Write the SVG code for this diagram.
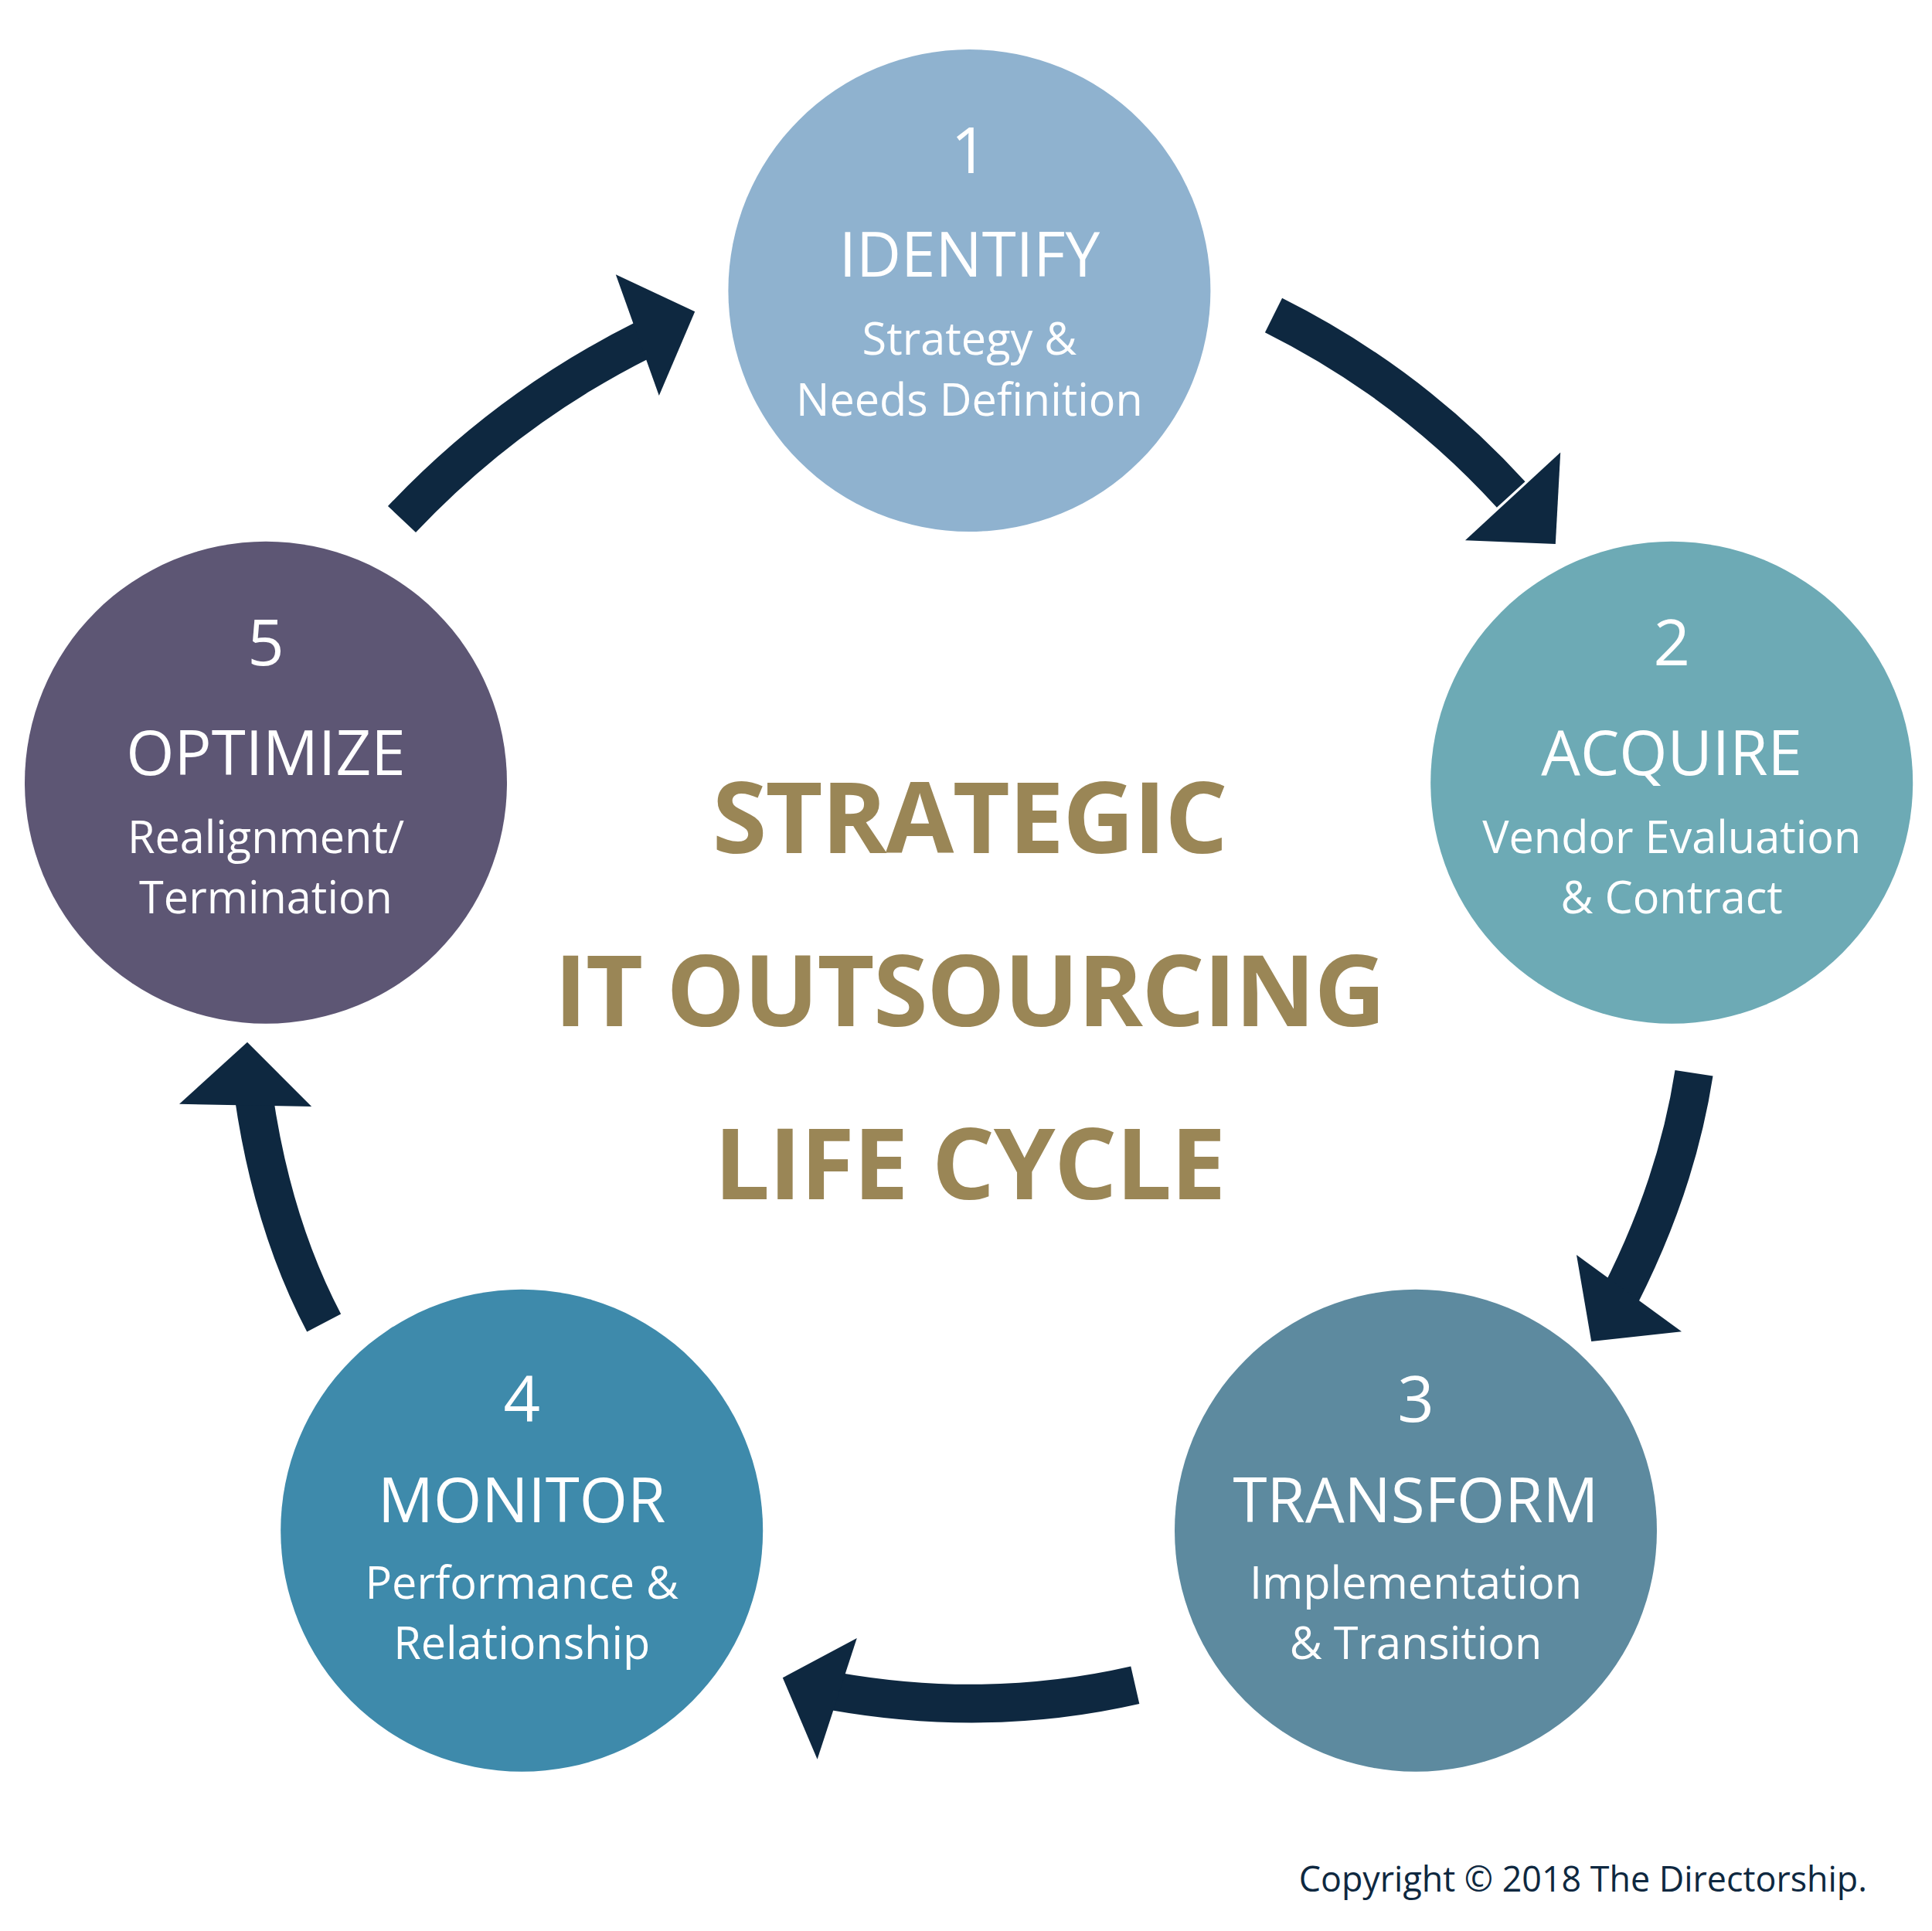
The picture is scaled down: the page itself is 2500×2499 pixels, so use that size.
<svg xmlns="http://www.w3.org/2000/svg" width="2500" height="2499" viewBox="0 0 2500 2499">
<style>
.t{font-family:"Open Sans","Noto Sans",sans-serif;fill:#fff;text-anchor:middle}
.n{font-size:52px}
.h{font-size:50px}
.s{font-size:36px}
.band{fill:none;stroke:#0e2840;stroke-width:31}
.head{fill:#0e2840}
.title{font-family:"Open Sans","Noto Sans",sans-serif;font-weight:bold;font-size:80px;fill:#9a8656;text-anchor:middle;letter-spacing:-1px}
</style>
<rect width="2500" height="2499" fill="#fff"/>
<g transform="scale(1.6)">
<g id="connectors">
<path class="band" d="M1030,255 Q1140,310 1222,400"/><polygon class="head" points="1185,437 1258,440 1262,366"/>
<path class="band" d="M1370,868 Q1355,965 1303,1062"/><polygon class="head" points="1275,1015 1287,1085 1360,1077"/>
<path class="band" d="M918,1363 Q800,1390 675,1368"/><polygon class="head" points="693,1325 633,1357 661,1423"/>
<path class="band" d="M262,1070 Q220,990 205,885"/><polygon class="head" points="145,893 200,843 252,895"/>
<path class="band" d="M325,420 Q410,330 520,275"/><polygon class="head" points="498,222 562,252 533,320"/>
</g>
<g id="node1"><circle cx="784" cy="235" r="195" fill="#8fb2cf"/>
<text class="t n" x="784" y="140">1</text><text class="t h" x="784" y="224">IDENTIFY</text>
<text class="t s" x="784" y="287">Strategy &amp;</text><text class="t s" x="784" y="336">Needs Definition</text></g>
<g id="node2"><circle cx="1352" cy="633" r="195" fill="#6daab5"/>
<text class="t n" x="1352" y="538">2</text><text class="t h" x="1352" y="627">ACQUIRE</text>
<text class="t s" x="1352" y="690">Vendor Evaluation</text><text class="t s" x="1352" y="739">&amp; Contract</text></g>
<g id="node3"><circle cx="1145" cy="1238" r="195" fill="#5d8a9f"/>
<text class="t n" x="1145" y="1150">3</text><text class="t h" x="1145" y="1231">TRANSFORM</text>
<text class="t s" x="1145" y="1293">Implementation</text><text class="t s" x="1145" y="1342">&amp; Transition</text></g>
<g id="node4"><circle cx="422" cy="1238" r="195" fill="#3e8aab"/>
<text class="t n" x="422" y="1150">4</text><text class="t h" x="422" y="1231">MONITOR</text>
<text class="t s" x="422" y="1293">Performance &amp;</text><text class="t s" x="422" y="1342">Relationship</text></g>
<g id="node5"><circle cx="215" cy="633" r="195" fill="#5d5674"/>
<text class="t n" x="215" y="538">5</text><text class="t h" x="215" y="627">OPTIMIZE</text>
<text class="t s" x="215" y="690">Realignment/</text><text class="t s" x="215" y="739">Termination</text></g>
<g id="title">
<text class="title" x="784" y="690">STRATEGIC</text>
<text class="title" x="784" y="830">IT OUTSOURCING</text>
<text class="title" x="784" y="970">LIFE CYCLE</text>
</g>
<text x="1510" y="1530" font-family="'Open Sans','Noto Sans',sans-serif" font-size="28" fill="#0e2840" text-anchor="end">Copyright © 2018 The Directorship.</text>
</g>
</svg>
